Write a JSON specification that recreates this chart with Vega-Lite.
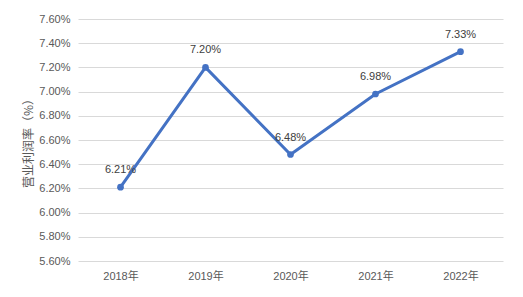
{
  "$schema": "https://vega.github.io/schema/vega-lite/v6.json",
  "width": 425,
  "height": 242,
  "autosize": {"type": "none"},
  "padding": {"left": 78, "top": 19, "right": 20, "bottom": 36},
  "background": "white",
  "config": {
    "view": {"stroke": null},
    "font": "Liberation Sans, Noto Sans CJK SC",
    "axis": {"labelFont": "Liberation Sans, Noto Sans CJK SC", "titleFont": "Noto Sans CJK SC"}
  },
  "data": {
    "values": [
      {"year": "2018年", "rate": 0.0621},
      {"year": "2019年", "rate": 0.0720},
      {"year": "2020年", "rate": 0.0648},
      {"year": "2021年", "rate": 0.0698},
      {"year": "2022年", "rate": 0.0733}
    ]
  },
  "encoding": {
    "x": {
      "field": "year", "type": "nominal", "sort": null,
      "axis": {"title": null, "labelAngle": 0, "domain": false, "ticks": false, "labelPadding": 9, "labelFontSize": 11, "labelColor": "#595959"}
    },
    "y": {
      "field": "rate", "type": "quantitative",
      "scale": {"domain": [0.056, 0.076], "nice": false, "zero": false},
      "axis": {
        "title": "营业利润率（%）", "titleFontSize": 12, "titleFontWeight": "normal", "titleColor": "#595959", "titlePadding": 3,
        "format": ".2%", "values": [0.056, 0.058, 0.060, 0.062, 0.064, 0.066, 0.068, 0.070, 0.072, 0.074, 0.076],
        "domain": false, "ticks": false, "labelPadding": 8, "labelFontSize": 11, "labelColor": "#595959",
        "gridColor": "#d9d9d9", "gridWidth": 1
      }
    }
  },
  "layer": [
    {"mark": {"type": "line", "color": "#4472C4", "strokeWidth": 3}},
    {"mark": {"type": "point", "filled": true, "color": "#4472C4", "size": 45, "opacity": 1}},
    {"mark": {"type": "text", "dy": -17, "fontSize": 11, "color": "#404040"}, "encoding": {"text": {"field": "rate", "type": "quantitative", "format": ".2%"}}}
  ]
}
